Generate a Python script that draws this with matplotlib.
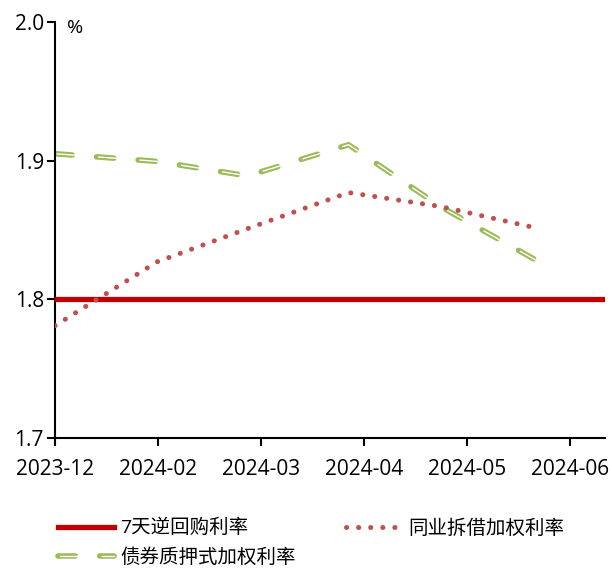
import matplotlib
matplotlib.use("Agg")
import matplotlib.pyplot as plt
from matplotlib.legend_handler import HandlerLine2D
import matplotlib.lines as mlines

plt.rcParams['font.family'] = ['Open Sans', 'Noto Sans CJK SC', 'DejaVu Sans']
plt.rcParams['lines.scale_dashes'] = False

# ---- data ----
tick_labels = ["2023-12", "2024-02", "2024-03", "2024-04", "2024-05", "2024-06"]
obs_pos = [0.0, 0.99, 1.87, 2.85, 3.74, 4.70]          # observation positions (tick units)
repo_rate = 1.80                                        # 7天逆回购利率
interbank = [1.781, 1.827, 1.851, 1.877, 1.867, 1.851]  # 同业拆借加权利率
pledge = [1.905, 1.8995, 1.889, 1.9115, 1.867, 1.827]   # 债券质押式加权利率
labels = ["7天逆回购利率", "同业拆借加权利率", "债券质押式加权利率"]

GREEN_LW = 4.0
WHITE_LW = 1.0
GREEN_DASH = (0, (12.5, 17.5))
WHITE_DASH = (28.6, (15.3, 14.7))
DOT_STYLE = (0, (0.1, 8.6))

fig = plt.figure(figsize=(6.12, 5.69), dpi=100)
ax = fig.add_axes([55/612, 1-438/569, 550/612, 416/569])

green = '#9BBB59'
gl, = ax.plot(obs_pos, pledge, color=green, lw=GREEN_LW, linestyle=GREEN_DASH,
              dash_capstyle='round', label=labels[2], zorder=2)
ax.plot(obs_pos, pledge, color='white', lw=WHITE_LW, linestyle=WHITE_DASH,
        dash_capstyle='round', zorder=2.1)
rl = ax.axhline(repo_rate, color='#C00000', lw=3.8, label=labels[0], zorder=3)
dl, = ax.plot(obs_pos, interbank, color='#C0504D', lw=3.6, linestyle=DOT_STYLE,
              dash_capstyle='round', label=labels[1], zorder=4)

ax.set_xlim(0, 5.34)
ax.set_ylim(1.7, 2.0)
ax.set_xticks(range(len(tick_labels)))
ax.set_xticklabels(tick_labels)
ax.set_yticks([1.7, 1.8, 1.9, 2.0])
ax.set_yticklabels(["1.7", "1.8", "1.9", "2.0"])
for s in ['top', 'right']:
    ax.spines[s].set_visible(False)
for s in ['left', 'bottom']:
    ax.spines[s].set_linewidth(1.5)
    ax.spines[s].set_color('black')
ax.tick_params(axis='both', direction='out', length=6, width=1.5, labelsize=15, colors='black')
ax.tick_params(axis='x', pad=9)
ax.tick_params(axis='y', pad=2)
ax.text(0.12, 1.996, "%", fontsize=14, ha='left', va='center')


class DoubleDash(HandlerLine2D):
    def create_artists(self, legend, orig_handle, xdescent, ydescent, width, height, fontsize, trans):
        arts = super().create_artists(legend, orig_handle, xdescent, ydescent, width, height, fontsize, trans)
        inner = mlines.Line2D(arts[0].get_xdata(), arts[0].get_ydata(), color='white', lw=WHITE_LW,
                              linestyle=WHITE_DASH, dash_capstyle='round')
        inner.set_transform(trans)
        return list(arts) + [inner]


leg = fig.legend([rl, gl, dl], [labels[0], labels[2], labels[1]], loc='upper left',
                 bbox_to_anchor=(58/612, 1-519/569),
                 ncol=2, frameon=False, fontsize=14, handlelength=2.9, handletextpad=0.3,
                 columnspacing=2.6, labelspacing=0.55, borderaxespad=0, borderpad=0,
                 handler_map={gl: DoubleDash()})

fig.savefig("out.png", dpi=100)
